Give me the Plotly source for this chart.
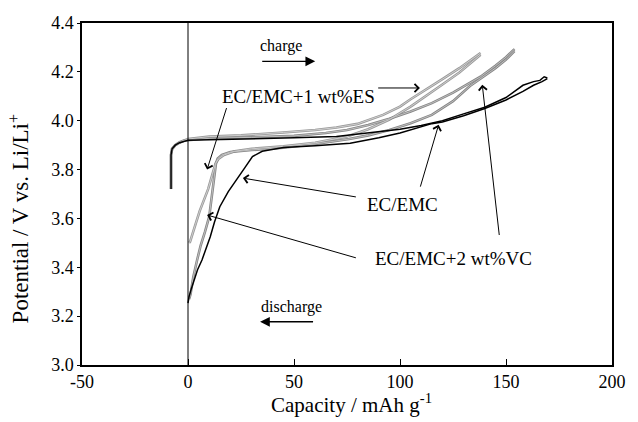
import plotly.graph_objects as go

# ---- data ----
ec_chg_x = [-8, -8, -7.5, -6, -4, -2, 0, 10, 30, 50, 70, 80, 90, 100, 110, 120, 130, 140, 150, 158, 163, 166, 168, 169.5]
ec_chg_y = [3.72, 3.86, 3.885, 3.9, 3.91, 3.915, 3.92, 3.922, 3.925, 3.93, 3.935, 3.945, 3.955, 3.965, 3.98, 4.0, 4.028, 4.055, 4.095, 4.145, 4.16, 4.165, 4.18, 4.175]
ec_dis_x = [169.5, 167, 163, 158, 150, 140, 130, 120, 115, 110, 100, 90, 76.5, 60, 45, 35, 30.4, 27, 22.7, 19, 15, 12.5, 10.5, 8.5, 6.6, 4.5, 2.8, 1.5, 0.5, 0]
ec_dis_y = [4.172, 4.16, 4.145, 4.12, 4.085, 4.05, 4.02, 3.995, 3.988, 3.975, 3.95, 3.93, 3.908, 3.898, 3.89, 3.875, 3.853, 3.81, 3.758, 3.71, 3.648, 3.585, 3.525, 3.475, 3.43, 3.39, 3.348, 3.31, 3.28, 3.253]

es_chg_x = [-8, -8, -7.5, -6, -4, -2, 0, 10, 25, 45, 60, 70, 80, 92, 100, 105, 112, 120, 128, 133, 138]
es_chg_y = [3.72, 3.86, 3.885, 3.9, 3.912, 3.92, 3.925, 3.935, 3.94, 3.952, 3.962, 3.972, 3.987, 4.024, 4.058, 4.088, 4.125, 4.17, 4.215, 4.245, 4.277]
es_dis_x = [138, 133, 128, 120, 112, 105, 95, 85, 75, 60, 45, 30, 22, 17, 14.5, 13, 11.5, 9.5, 7.5, 5.5, 3.5, 2, 1, 0.5]
es_dis_y = [4.27, 4.232, 4.197, 4.148, 4.098, 4.058, 4.005, 3.965, 3.935, 3.91, 3.895, 3.885, 3.875, 3.86, 3.845, 3.825, 3.78, 3.72, 3.675, 3.63, 3.575, 3.53, 3.505, 3.50]

vc_chg_x = [-8, -8, -7.5, -6, -4, -2, 0, 10, 30, 50, 65, 75, 85, 95, 105, 115, 125, 133, 138, 145, 150, 154]
vc_chg_y = [3.72, 3.86, 3.885, 3.9, 3.91, 3.918, 3.92, 3.928, 3.932, 3.938, 3.95, 3.962, 3.982, 4.008, 4.038, 4.072, 4.115, 4.155, 4.18, 4.225, 4.26, 4.293]
vc_dis_x = [154, 150, 145, 138, 133, 125, 115, 105, 95, 85, 76, 60, 45, 30, 20, 16, 14, 13.2, 12.3, 11.3, 10, 8, 6, 4.3, 2.5, 1.2, 0.5]
vc_dis_y = [4.285, 4.25, 4.215, 4.172, 4.142, 4.08, 4.024, 3.99, 3.962, 3.94, 3.925, 3.905, 3.89, 3.88, 3.872, 3.86, 3.845, 3.826, 3.76, 3.68, 3.607, 3.545, 3.49, 3.43, 3.36, 3.29, 3.27]

x_ticks = [-50, 0, 50, 100, 150, 200]
y_ticks = [3.0, 3.2, 3.4, 3.6, 3.8, 4.0, 4.2, 4.4]

FONT = "Liberation Serif, Times New Roman, serif"
ES_EDGE, ES_CORE = "#9a9a9a", "#d4d4d4"
VC_EDGE, VC_CORE = "#868686", "#c4c4c4"
EC_COL = "#000000"

fig = go.Figure()
gray_series = [
    (es_chg_x, es_chg_y, ES_EDGE, ES_CORE),
    (es_dis_x, es_dis_y, ES_EDGE, ES_CORE),
    (vc_chg_x, vc_chg_y, VC_EDGE, VC_CORE),
    (vc_dis_x, vc_dis_y, VC_EDGE, VC_CORE),
]
# outlined gray curves (edge + light core), as in the scanned figure
for xs, ys, edge, core in gray_series:
    fig.add_trace(go.Scatter(x=xs, y=ys, mode="lines",
                             line=dict(color=edge, width=2.6), showlegend=False,
                             hoverinfo="skip"))
for xs, ys, edge, core in gray_series:
    fig.add_trace(go.Scatter(x=xs, y=ys, mode="lines",
                             line=dict(color=core, width=0.9), showlegend=False,
                             hoverinfo="skip"))
for xs, ys in [(ec_chg_x, ec_chg_y), (ec_dis_x, ec_dis_y)]:
    fig.add_trace(go.Scatter(x=xs, y=ys, mode="lines",
                             line=dict(color=EC_COL, width=1.5), showlegend=False,
                             hoverinfo="skip"))

# vertical line at zero capacity
fig.add_shape(type="line", x0=0, x1=0, y0=3.0, y1=4.4, xref="x", yref="y",
              line=dict(color="black", width=1))

ann = []
def text(x, y, s, size=19):
    ann.append(dict(x=x, y=y, xref="x", yref="y", text=s, showarrow=False,
                    font=dict(family=FONT, size=size, color="black"),
                    xanchor="center", yanchor="middle"))

def arrow(tx, ty, hx, hy, head=4, size=1.6, width=1):
    ann.append(dict(x=hx, y=hy, ax=tx, ay=ty, xref="x", yref="y",
                    axref="x", ayref="y", text="", showarrow=True,
                    arrowhead=head, arrowsize=size, arrowwidth=width,
                    arrowcolor="black"))

text(44, 4.305, "charge", 16)
arrow(34.3, 4.243, 60, 4.243, head=2, size=1.5, width=1.3)
text(49, 3.237, "discharge", 16)
arrow(59.7, 3.177, 34, 3.177, head=2, size=1.5, width=1.3)

text(52.2, 4.099, "EC/EMC+1 wt%ES")
arrow(89, 4.134, 109.4, 4.134)
arrow(18.4, 4.058, 9.0, 3.80)

text(101.3, 3.655, "EC/EMC")
arrow(79.9, 3.687, 25.9, 3.765)
arrow(109.4, 3.724, 118.2, 3.983)

text(125.3, 3.437, "EC/EMC+2 wt%VC")
arrow(79.9, 3.437, 9.0, 3.614)
arrow(146.9, 3.526, 138.8, 4.147)

# axis titles placed as in the reference
ann.append(dict(x=0.509, y=-0.112, xref="paper", yref="paper",
                text="Capacity / mAh g<sup>-1</sup>", showarrow=False,
                font=dict(family=FONT, size=21, color="black"),
                xanchor="center", yanchor="middle"))
ann.append(dict(x=-0.118, y=0.43, xref="paper", yref="paper",
                text="Potential / V vs. Li/Li<sup>+</sup>", showarrow=False,
                textangle=-90,
                font=dict(family=FONT, size=23, color="black"),
                xanchor="center", yanchor="middle"))

fig.update_layout(
    width=638, height=422,
    margin=dict(l=82, r=12, t=23, b=57),
    paper_bgcolor="white", plot_bgcolor="white",
    font=dict(family=FONT, size=18, color="black"),
    annotations=ann,
    xaxis=dict(range=[-50, 200], tickvals=x_ticks, ticktext=[str(v) for v in x_ticks],
               showgrid=False, zeroline=False, showline=True, linecolor="black",
               linewidth=1.5, mirror=True, ticks="inside", ticklen=6,
               tickcolor="black", tickfont=dict(family=FONT, size=18)),
    yaxis=dict(range=[3.0, 4.4], tickvals=y_ticks,
               ticktext=["%.1f" % v for v in y_ticks],
               showgrid=False, zeroline=False, showline=True, linecolor="black",
               linewidth=1.5, mirror=True, ticks="outside", ticklen=3,
               tickcolor="black", tickfont=dict(family=FONT, size=18)),
)

fig.write_html("out.html")
